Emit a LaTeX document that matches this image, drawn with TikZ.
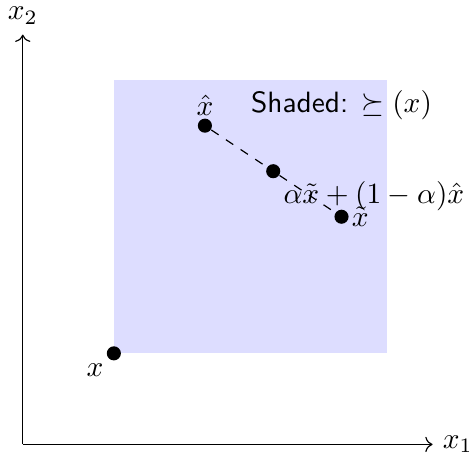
\documentclass[tikz,border=0pt]{standalone}
\usepackage{amsmath,amssymb}
\usetikzlibrary{positioning,arrows.meta}
\definecolor{shadeblue}{RGB}{221, 221, 255}

\begin{document}
\begin{tikzpicture}[
    x=1.09cm, y=1.09cm,
    >=To,
    dot/.style={
        circle,
        fill=black,
        inner sep=0pt,
        minimum size=4.8pt
    },
    axis/.style={
        ->,
        draw=black
    },
    region/.style={
        fill=shadeblue,
        draw=none
    }
]
    \useasboundingbox (-0.25,-0.11) rectangle (4.9,4.88);

    % 1. Upper contour set
    \fill[region] (1,1) rectangle (4,4);
    \node[below] (shadelbl) at (3.5,4) {\textsf{Shaded:} $\succeq(x)$};

    % 2. Axes
    \coordinate (origin) at (0,0);
    \coordinate (xend) at (4.5,0);
    \coordinate (yend) at (0,4.5);
    \draw[axis] (origin) -- (xend) node[right] {$x_1$};
    \draw[axis] (origin) -- (yend) node[above] {$x_2$};

    % 3. Bundles
    \node[dot] (x) at (1,1) {};
    \node[dot] (xhat) at (2,3.5) {};
    \node[dot] (xtilde) at (3.5,2.5) {};
    \node[dot] (mix) at (2.75,3) {};

    \node[below left] (xlbl) at (x.center) {$x$};
    \node[above] (xhatlbl) at (xhat.center) {$\hat{x}$};
    \node[right] (xtildelbl) at (xtilde.center) {$\tilde{x}$};
    \node[below right] (mixlbl) at (mix.center) {$\alpha\tilde{x}+(1-\alpha)\hat{x}$};

    % Connections
    \draw[dashed] (xhat) -- (mix) -- (xtilde);

\end{tikzpicture}
\end{document}
